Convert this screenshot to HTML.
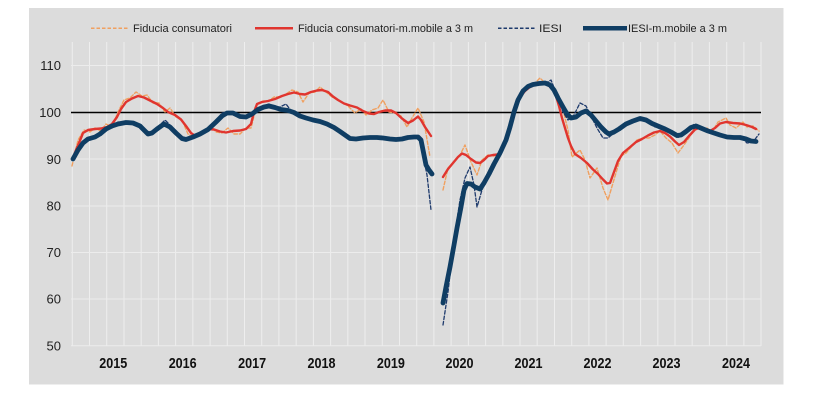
<!DOCTYPE html>
<html><head><meta charset="utf-8"><style>
html,body{margin:0;padding:0;background:#fff;}
svg{display:block;}
text{font-family:"Liberation Sans",Arial,sans-serif;}
</style></head><body>
<svg width="821" height="416" viewBox="0 0 821 416" xmlns="http://www.w3.org/2000/svg">
<rect x="0" y="0" width="821" height="416" fill="#ffffff"/>
<rect x="29" y="8" width="754.5" height="376.5" fill="#dcdcdc"/>
<g stroke="#f2f2f2" stroke-width="1" opacity="0.85">
<line x1="72.3" y1="42" x2="72.3" y2="346"/><line x1="89.5" y1="42" x2="89.5" y2="346"/><line x1="106.7" y1="42" x2="106.7" y2="346"/><line x1="124" y1="42" x2="124" y2="346"/><line x1="141.2" y1="42" x2="141.2" y2="346"/><line x1="158.4" y1="42" x2="158.4" y2="346"/><line x1="175.6" y1="42" x2="175.6" y2="346"/><line x1="192.8" y1="42" x2="192.8" y2="346"/><line x1="210.1" y1="42" x2="210.1" y2="346"/><line x1="227.3" y1="42" x2="227.3" y2="346"/><line x1="244.5" y1="42" x2="244.5" y2="346"/><line x1="261.7" y1="42" x2="261.7" y2="346"/><line x1="278.9" y1="42" x2="278.9" y2="346"/><line x1="296.2" y1="42" x2="296.2" y2="346"/><line x1="313.4" y1="42" x2="313.4" y2="346"/><line x1="330.6" y1="42" x2="330.6" y2="346"/><line x1="347.8" y1="42" x2="347.8" y2="346"/><line x1="365" y1="42" x2="365" y2="346"/><line x1="382.3" y1="42" x2="382.3" y2="346"/><line x1="399.5" y1="42" x2="399.5" y2="346"/><line x1="416.7" y1="42" x2="416.7" y2="346"/><line x1="433.9" y1="42" x2="433.9" y2="346"/><line x1="451.1" y1="42" x2="451.1" y2="346"/><line x1="468.4" y1="42" x2="468.4" y2="346"/><line x1="485.6" y1="42" x2="485.6" y2="346"/><line x1="502.8" y1="42" x2="502.8" y2="346"/><line x1="520" y1="42" x2="520" y2="346"/><line x1="537.2" y1="42" x2="537.2" y2="346"/><line x1="554.5" y1="42" x2="554.5" y2="346"/><line x1="571.7" y1="42" x2="571.7" y2="346"/><line x1="588.9" y1="42" x2="588.9" y2="346"/><line x1="606.1" y1="42" x2="606.1" y2="346"/><line x1="623.3" y1="42" x2="623.3" y2="346"/><line x1="640.6" y1="42" x2="640.6" y2="346"/><line x1="657.8" y1="42" x2="657.8" y2="346"/><line x1="675" y1="42" x2="675" y2="346"/><line x1="692.2" y1="42" x2="692.2" y2="346"/><line x1="709.4" y1="42" x2="709.4" y2="346"/><line x1="726.7" y1="42" x2="726.7" y2="346"/><line x1="743.9" y1="42" x2="743.9" y2="346"/><line x1="761" y1="42" x2="761" y2="346"/>
</g>
<g stroke="#ececec" stroke-width="1">
<line x1="71" y1="65.5" x2="761" y2="65.5"/><line x1="71" y1="159" x2="761" y2="159"/><line x1="71" y1="206" x2="761" y2="206"/><line x1="71" y1="252.5" x2="761" y2="252.5"/><line x1="71" y1="299" x2="761" y2="299"/><line x1="71" y1="345.7" x2="761" y2="345.7"/>
</g>
<line x1="71" y1="112.5" x2="761" y2="112.5" stroke="#000" stroke-width="1.5"/>
<g font-size="13" fill="#222" text-anchor="end">
<text x="61" y="70.2">110</text><text x="61" y="117.2">100</text><text x="61" y="163.8">90</text><text x="61" y="210.7">80</text><text x="61" y="257.2">70</text><text x="61" y="303.7">60</text><text x="61" y="350.4">50</text>
</g>
<g font-size="14.5" font-weight="bold" fill="#111" text-anchor="middle">
<text x="113.3" y="368" textLength="28" lengthAdjust="spacingAndGlyphs">2015</text>
<text x="182.7" y="368" textLength="28" lengthAdjust="spacingAndGlyphs">2016</text>
<text x="252.1" y="368" textLength="28" lengthAdjust="spacingAndGlyphs">2017</text>
<text x="321.5" y="368" textLength="28" lengthAdjust="spacingAndGlyphs">2018</text>
<text x="390.9" y="368" textLength="28" lengthAdjust="spacingAndGlyphs">2019</text>
<text x="459.5" y="368" textLength="28" lengthAdjust="spacingAndGlyphs">2020</text>
<text x="528.5" y="368" textLength="28" lengthAdjust="spacingAndGlyphs">2021</text>
<text x="597.5" y="368" textLength="28" lengthAdjust="spacingAndGlyphs">2022</text>
<text x="666.5" y="368" textLength="28" lengthAdjust="spacingAndGlyphs">2023</text>
<text x="736" y="368" textLength="28" lengthAdjust="spacingAndGlyphs">2024</text>
</g>
<!-- legend -->
<line x1="91" y1="28.3" x2="129" y2="28.3" stroke="#f0a060" stroke-width="1.5" stroke-dasharray="3.5,2"/>
<text x="133" y="31.8" font-size="11" fill="#222" textLength="99" lengthAdjust="spacingAndGlyphs">Fiducia consumatori</text>
<line x1="255" y1="28.3" x2="293" y2="28.3" stroke="#e0352f" stroke-width="2.5"/>
<text x="298" y="31.8" font-size="11" fill="#222" textLength="175" lengthAdjust="spacingAndGlyphs">Fiducia consumatori-m.mobile a 3 m</text>
<line x1="498" y1="28.3" x2="535" y2="28.3" stroke="#1e3a6c" stroke-width="1.5" stroke-dasharray="3.5,2"/>
<text x="539" y="31.8" font-size="11" fill="#222" textLength="23" lengthAdjust="spacingAndGlyphs">IESI</text>
<line x1="583" y1="28.3" x2="627" y2="28.3" stroke="#0f3d63" stroke-width="4.5"/>
<text x="628" y="31.8" font-size="11" fill="#222" textLength="99" lengthAdjust="spacingAndGlyphs">IESI-m.mobile a 3 m</text>

<g fill="none" stroke-linejoin="round" stroke-linecap="round">
<!-- orange dashed raw consumer confidence -->
<g stroke="#f0a060" stroke-width="1.4" stroke-dasharray="3.5,2">
<polyline points="72,166 78,140 84,130 90,132 95,128 101,131 106,124 112,127 118,112 124,100 130,98 136,92 142,96 147,95 153,103 159,103 165,112 170,108 176,117 182,120 188,134 193,137 199,133 205,131 211,126 216,132 222,133 228,128 234,134 240,134 246,128 251,128 257,104 263,101 269,101 274,97 280,97 286,94 292,90 298,92 303,102 309,93 315,92 320,87 326,92 332,97 338,100 344,103 349,107 355,113 361,109 366,115 372,110 378,108 383,100 389,112 395,113 401,116 407,127 412,118 418,108 424,122 430,157"/>
<polyline points="443,190 448,168 454,162 460,155 465,145 471,162 477,175 482,160 488,155 494,156 500,152 505,146 511,128 517,104 523,94 528,88 534,84 540,78 546,84 551,85 557,98 563,110 568,130 572,157 580,150 585,160 590,178 597,168 603,188 608,200 613,183 621,156 626,153 632,146 637,140 643,138 649,138 655,135 660,131 666,138 672,143 678,153 684,145 689,138 695,127 701,130 707,128 712,132 718,122 726,118 730,125 736,128 743,122 747,127 753,126 759,131"/>
</g>
<!-- navy dashed raw IESI -->
<g stroke="#1e3a6c" stroke-width="1.3" stroke-dasharray="3.5,2">
<polyline points="72,160 78,150 84,141 90,140 95,138 101,135 107,128 112,128 118,122 124,122 130,122 136,123 141,126 147,131 153,134 159,126 165,120 170,125 176,133 182,140 188,140 193,137 199,133 205,133 211,127 217,120 222,113 228,112 234,114 240,118 246,116 251,113 257,109 263,106 269,104 274,107 280,107 286,104 292,112 298,114 303,117 309,118 315,121 320,122 326,124 332,126 338,130 344,134 349,139 355,139 361,138 366,137 372,138 378,137 383,138 389,139 395,139 401,139 407,138 412,137 418,136 420,138 424,160 427,175 431,210"/>
<polyline points="443,325 448,292 454,240 460,200 465,178 470,167 474,185 477,207 482,190 488,175 494,163 500,156 505,142 511,118 517,100 523,90 528,86 534,84 540,83 546,83 551,80 557,95 563,112 568,120 574,115 580,103 586,106 591,116 597,128 603,138 608,138 614,133 620,128 626,124 632,121 637,118 643,118 649,121 655,127 660,127 666,131 672,133 678,138 684,132 689,127 695,124 701,127 707,130 712,131 718,134 724,135 730,137 735,136 741,137 747,143 753,142 759,134"/>
</g>
<!-- red MA -->
<g stroke="#e0352f" stroke-width="2.4">
<polyline points="73,158 76,150 79,143 83,133 88,130 95,129 101,128.5 107,127 112,124 117,117 121,109 126,102 132,98.5 138,96 144,97.5 150,100.5 157,104 163,108 168,112 175,115 181,119.5 186,126 191,133 196,136.5 202,133 208,129 214,129.5 220,131.5 226,132.5 233,131 240,130.5 246,129 251,124 254,112 257,104 262,102 268,101 275,99 282,96 288,94 294,92.5 300,94 305,94.5 311,92 317,90.5 322,90 328,92 333,96.5 338,100 344,103.5 350,105.5 357,107.5 363,111 369,113.5 374,114 379,112 385,110.5 391,110.5 396,113 402,118.5 408,123 413,120.5 418,116.5 421,120 425,127 431,136"/>
<polyline points="443,177 448,169 453,163 458,157 462,153.5 466,155 471,159 476,162.5 480,163 484,160 488,156 493,155 498,154.5 503,148 507,138 511,122 516,106 520,97 525,91 530,87 535,84.5 541,83 547,84.5 552,88 556,96 559,106 562,118 565,128 568,138 571,146 575,154 581,158 587,163 593,169.5 598,174 603,179.5 607,183.5 610,183 614,172 618,161 623,153 629,148 636,142 642,139 648,135.5 654,132.5 660,131 665,133 670,136.5 675,141.5 679,145 684,142 689,136 695,129.5 700,127.5 705,129 710,131 715,128 720,123.5 726,122 733,123 740,123.5 746,125 752,127 756,129"/>
</g>
<!-- navy thick MA -->
<g stroke="#0f3d63" stroke-width="4.8">
<polyline points="73,159 78,150 83,143 88,139 95,137 100,134 106,129 112,126 118,124 126,122.5 133,123 140,126 148,134 152,133 157,129 164,124 170,127 176,133 182,138.5 186,139.5 193,137 200,134 208,129.5 216,122 222,116 227,113 233,113 240,116.5 246,117 252,114 258,109.5 264,107 269,106 275,107.5 281,109.5 288,110.5 294,112.5 300,116 306,118 313,120 320,121.5 327,124 334,127.5 340,131.5 345,135 350,138.5 356,139 363,138 370,137.5 377,137.5 383,138 390,139 396,139.5 402,139 408,137.5 414,137 418,137 421,140 423,150 426,165 429,170 432,174"/>
<polyline points="443,303 446,287 450,267 454,245 457,228 461,207 464,190 467,183.5 471,184 475,187 480,189 484,183 489,174 494,164 500,153 506,140 510,127 514,112 518,100 523,91 528,86.5 533,84.5 539,83.5 545,83 550,85 554,90 558,98 563,107 567,114 571,118 576,117 581,113 586,111 591,115 596,121 601,127 606,132 609,134 614,132 619,129 626,124 633,121 640,118.5 646,120 652,123.5 659,126.5 665,129 671,132 677,135.5 681,135 686,131.5 691,127.5 696,126 702,128.5 708,131 714,133 720,135 727,137 734,137.5 740,137.5 746,139 751,141 756,141.5"/>
</g>
</g>
</svg>
</body></html>
